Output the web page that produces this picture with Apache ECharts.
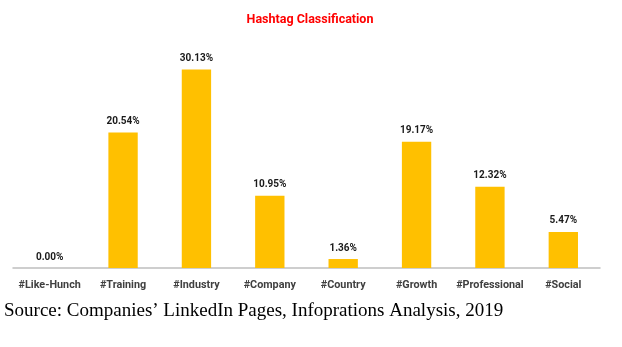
<!DOCTYPE html>
<html><head><meta charset="utf-8">
<script src="https://cdn.jsdelivr.net/npm/echarts@6/dist/echarts.min.js"></script>
<style>html,body{margin:0;padding:0;background:#fff}#c{width:622px;height:347px}</style>
</head><body><div id="c"></div>
<script>
const categories = ['#Like-Hunch','#Training','#Industry','#Company','#Country','#Growth','#Professional','#Social'];
const values = [0.00, 20.54, 30.13, 10.95, 1.36, 19.17, 12.32, 5.47];
const titleText = 'Hashtag Classification';
const sourceText = 'Source: Companies\u2019 LinkedIn Pages, Infoprations Analysis, 2019';

const chart = echarts.init(document.getElementById('c'), null, {renderer:'canvas'});
chart.setOption({
  animation: false,
  backgroundColor: '#fff',
  title: {
    text: titleText, left: 305, top: 8, textAlign: 'center',
    textStyle: {color:'#FF0000', fontFamily:'Roboto', fontWeight:'bold', fontSize:12.5}
  },
  graphic: [{
    type:'text', left: 4, top: 302,
    style: {text: sourceText, fontFamily:'Liberation Serif', fontSize: 19, fill:'#000'}
  }],
  grid: {left: 13, right: 22, top: 37.3, bottom: 79, containLabel:false},
  xAxis: {
    type:'category', data: categories,
    axisLine: {lineStyle:{color:'#BFBFBF', width:1.5}},
    axisTick: {show:false},
    axisLabel: {color:'#404040', fontFamily:'Roboto', fontWeight:'bold', fontSize:10.8, margin:12, interval:0}
  },
  yAxis: {type:'value', min:0, max:35, show:false, splitLine:{show:false}},
  series: [{
    type:'bar', data: values, barWidth:'40%',
    itemStyle:{color:'#FFC000'},
    label:{show:true, position:'top', distance:6, color:'#1a1a1a', fontFamily:'Roboto', fontWeight:'bold', fontSize:10,
      formatter: p => p.value.toFixed(2) + '%'}
  }]
});
</script></body></html>
